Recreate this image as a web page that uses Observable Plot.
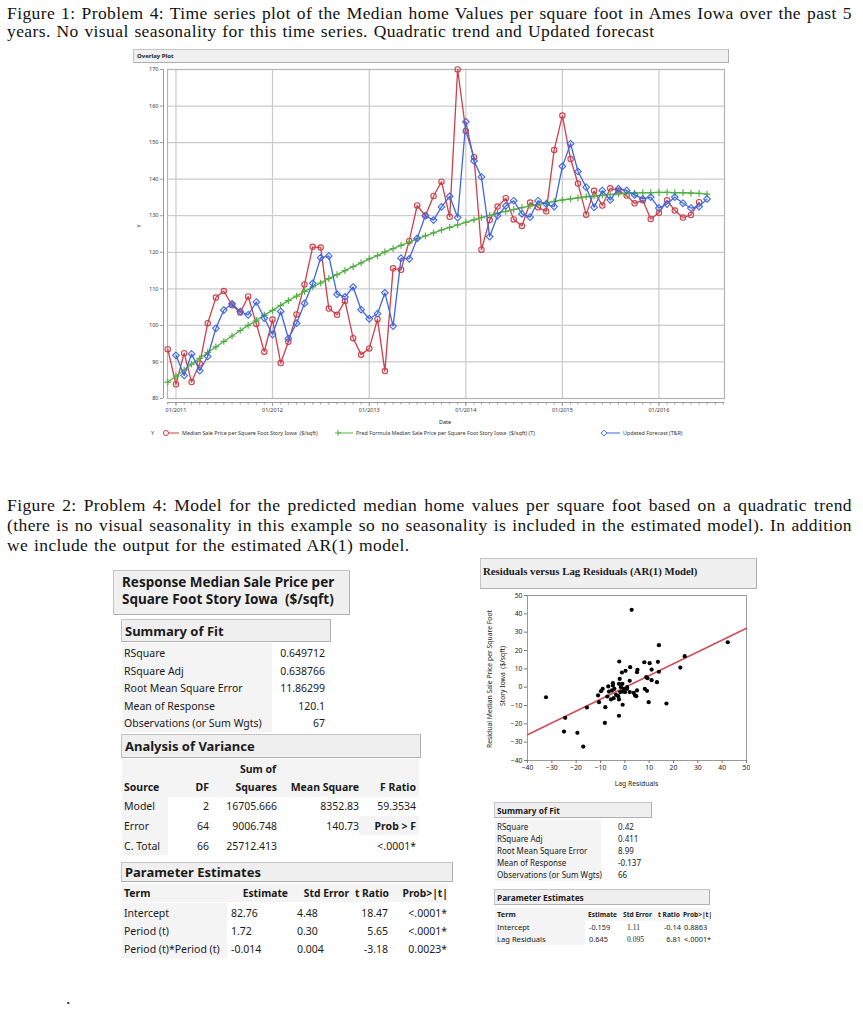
<!DOCTYPE html>
<html><head><meta charset="utf-8">
<script src="https://cdn.jsdelivr.net/npm/d3@7"></script>
<script src="https://cdn.jsdelivr.net/npm/@observablehq/plot@0.6"></script>
<style>
html,body{margin:0;padding:0;background:#fff;}
body{width:863px;height:1024px;position:relative;overflow:hidden;font-family:"Noto Sans",sans-serif;color:#1a1a1a;}
.cap{position:absolute;left:7px;width:845px;font-family:"Liberation Serif",serif;font-size:17.5px;letter-spacing:0.4px;word-spacing:1px;line-height:20px;white-space:nowrap;color:#111;}
.just{text-align:justify;text-align-last:justify;word-spacing:0;}
</style>
</head><body>
<div class="cap just" style="top:3px">Figure 1: Problem 4: Time series plot of the Median home Values per square foot in Ames Iowa over the past 5</div>
<div class="cap" style="top:21px">years. No visual seasonality for this time series. Quadratic trend and Updated forecast</div>
<div class="cap just" style="top:495px">Figure 2: Problem 4: Model for the predicted median home values per square foot based on a quadratic trend</div>
<div class="cap just" style="top:515px">(there is no visual seasonality in this example so no seasonality is included in the estimated model). In addition</div>
<div class="cap" style="top:535px">we include the output for the estimated AR(1) model.</div>
<div class="cap" style="top:988px;left:66px">.</div>
<script>
// ---------------- DATA ----------------
// Month offsets relative to 01/2011
const redStart = -1;
const redValues = [93.5,83.9,92.4,84.5,89.6,100.6,107.6,109.4,105.5,103.5,107.9,100.4,92.8,101.6,89.7,95.5,103.0,111.2,121.5,121.3,104.6,102.9,106.7,96.5,92.0,93.7,101.7,87.5,115.6,115.2,123.1,132.8,130.0,135.4,139.3,129.7,170.0,153.2,146.0,120.7,128.8,132.5,134.8,129.0,127.2,133.6,132.3,131.2,148.0,157.4,145.5,138.8,130.3,136.8,132.8,137.5,136.9,135.5,133.4,134.2,129.1,130.8,134.2,131.4,129.5,130.2,133.7];
const greenStart = -1;
const greenValues = [84.5,86.1,87.8,89.4,91.0,92.6,94.1,95.6,97.1,98.6,100.0,101.4,102.8,104.1,105.5,106.8,108.0,109.3,110.5,111.6,112.8,113.9,115.0,116.1,117.1,118.2,119.1,120.1,121.0,121.9,122.8,123.7,124.5,125.3,126.1,126.8,127.5,128.2,128.9,129.5,130.1,130.7,131.2,131.7,132.2,132.7,133.1,133.5,133.9,134.3,134.6,134.9,135.2,135.4,135.6,135.8,136.0,136.1,136.2,136.3,136.3,136.4,136.4,136.3,136.3,136.2,136.1,135.9];
const blueStart = 0;
const blueValues = [91.8,86.3,92.2,87.6,91.5,99.2,104.2,105.9,103.8,102.9,106.4,102.0,97.5,103.8,96.4,100.6,106.0,111.5,118.5,119.0,108.5,107.8,110.5,104.3,101.8,103.2,108.9,99.8,118.4,118.2,123.8,130.0,128.8,132.4,135.3,129.5,155.7,145.0,140.6,124.3,130.0,132.7,134.1,130.5,129.6,134.1,133.2,132.5,143.5,149.7,142.1,137.8,132.3,136.9,134.3,137.4,136.9,135.7,134.6,135.1,132.1,133.2,135.1,133.4,132.1,132.5,134.6];
const yTicks = [80,90,100,110,120,130,140,150,160,170];
const yearTickLabels = ["01/2011","01/2012","01/2013","01/2014","01/2015","01/2016"];
const seriesNames = ["Median Sale Price per Square Foot Story Iowa  ($/sqft)","Pred Formula Median Sale Price per Square Foot Story Iowa  ($/sqft) (T)","Updated Forecast (T&R)"];

// AR(1) residual scatter
const lagResiduals = [-32.4,2.8,42.3,14.0,24.6,22.8,-2.3,8.0,10.2,13.6,2.2,5.2,5.0,0.3,-1.2,11.0,14.0,8.8,9.3,11.0,13.2,2.0,-2.1,-2.4,-1.0,-4.9,-4.9,-6.8,-9.1,-9.8,-11.0,-10.6,-8.0,-15.6,-24.5,-25.0,-19.5,-17.1,-8.2,-2.4,-0.9,9.8,17.1,8.2,9.1,0.9,2.0,3.6,4.2,4.7,0.1,-0.8,-2.7,-2.4,-4.6,-5.7,-7.2,-5.3,-4.3,-1.9,-0.4,-3.6,0.9,-1.6,5.0,-6.5];
const residuals = [-5.5,42.2,24.5,22.9,16.9,10.7,14.0,13.6,13.1,13.8,10.9,9.5,8.2,8.9,8.0,9.6,8.4,5.5,4.9,3.8,2.7,3.5,4.5,1.8,1.8,2.2,0.9,0.4,-0.9,-2.2,-4.5,-8.2,-10.9,-11.1,-16.7,-24.2,-24.9,-32.4,-19.5,-15.6,-9.6,-8.2,-8.9,-0.9,-2.0,-0.9,-2.7,-3.1,-4.5,-4.9,-2.7,-2.4,-4.9,-6.7,-6.0,-6.7,-5.1,-1.8,-0.9,-2.7,-0.9,-4.2,0.0,0.0,-1.8,-2.4];
const fitLineX = [-40, 50];
const fitLineY = [-25.96, 32.09];
const scatterTicks = [-40,-30,-20,-10,0,10,20,30,40,50];

// Tables
const fitLabels = ["RSquare","RSquare Adj","Root Mean Square Error","Mean of Response","Observations (or Sum Wgts)"];
const fitValues = ["0.649712","0.638766","11.86299","120.1","67"];
const anovaSource = ["Model","Error","C. Total"];
const anovaDF = ["2","64","66"];
const anovaSS = ["16705.666","9006.748","25712.413"];
const anovaMS = ["8352.83","140.73",""];
const anovaF = ["59.3534","Prob > F","<.0001*"];
const peTerms = ["Intercept","Period (t)","Period (t)*Period (t)"];
const peEst = ["82.76","1.72","-0.014"];
const peSE = ["4.48","0.30","0.004"];
const peT = ["18.47","5.65","-3.18"];
const peP = ["<.0001*","<.0001*","0.0023*"];
const arFitValues = ["0.42","0.411","8.99","-0.137","66"];
const arTerms = ["Intercept","Lag Residuals"];
const arEst = ["-0.159","0.645"];
const arSE = ["1.11","0.095"];
const arT = ["-0.14","6.81"];
const arP = ["0.8863","<.0001*"];

// fit justified caption lines
document.querySelectorAll(".cap.just").forEach(el => {
  let ls = 0.4;
  while (el.scrollWidth > 846 && ls > -0.5) { ls -= 0.05; el.style.letterSpacing = ls + "px"; }
});

// ---------------- helpers ----------------
const RED = "#cd3f4a", GREEN = "#52b043", BLUE = "#3f66de";
const mdate = m => new Date(Date.UTC(2011, m, 1));
function B(x, y, w, h, bg = "#efefef", border = true) {
  const d = document.createElement("div");
  Object.assign(d.style, {position:"absolute", left:x+"px", top:y+"px", width:w+"px", height:h+"px", background:bg, boxSizing:"border-box"});
  if (border) { d.style.border = "1px solid #c4c4c4"; d.style.borderRightColor = "#b0b0b0"; d.style.borderBottomColor = "#b0b0b0"; }
  document.body.appendChild(d); return d;
}
function T(text, x, y, o = {}) {
  const size = o.size || 11, lh = Math.round(size * 1.5);
  const d = document.createElement("div");
  d.textContent = text;
  Object.assign(d.style, {position:"absolute", top:(y - lh/2)+"px", fontSize:size+"px", lineHeight:lh+"px",
    fontWeight:o.weight || 400, whiteSpace:"pre", color:o.color || "#1a1a1a",
    fontFamily:o.family || "'Noto Sans', sans-serif"});
  if (o.rotate) d.style.transform = "rotate(-90deg)";
  if (o.align === "right") { d.style.left = (x-400)+"px"; d.style.width = "400px"; d.style.textAlign = "right"; }
  else if (o.align === "center") { d.style.left = (x-300)+"px"; d.style.width = "600px"; d.style.textAlign = "center"; }
  else d.style.left = x+"px";
  document.body.appendChild(d); return d;
}
function place(node, x, y) { node.style.position = "absolute"; node.style.left = x+"px"; node.style.top = y+"px"; document.body.appendChild(node); }

// ---------------- Overlay plot ----------------
B(133, 49, 596, 14, "#f0f0f0");
T("Overlay Plot", 137, 56, {size:6, weight:700});

const red = redValues.map((v, i) => ({date: mdate(i + redStart), v}));
const green = greenValues.map((v, i) => ({date: mdate(i + greenStart), v}));
const blue = blueValues.map((v, i) => ({date: mdate(i + blueStart), v}));
const yearTicks = yearTickLabels.map(s => new Date(Date.UTC(+s.slice(3), +s.slice(0,2) - 1, 1)));
const monthTicks = d3.utcMonth.range(new Date(Date.UTC(2010,11,1)), new Date(Date.UTC(2016,8,2)));
const xmin = new Date(Date.UTC(2010,10,30)), xmax = new Date(Date.UTC(2016,8,5));

const overlay = Plot.plot({
  width: 600, height: 368, marginLeft: 37, marginRight: 6, marginTop: 7, marginBottom: 32,
  style: {fontSize: "5.5px", fontFamily: "'Noto Sans', sans-serif", background: "transparent", color: "#333", overflow: "visible"},
  x: {type: "utc", domain: [xmin, xmax], label: null},
  y: {domain: [80, 170], label: null},
  marks: [
    Plot.gridY(yTicks.slice(1, -1), {stroke: "#cbcbcb", strokeOpacity: 1, strokeWidth: 1.2}),
    Plot.gridX(yearTicks, {stroke: "#cbcbcb", strokeOpacity: 1, strokeWidth: 1.2}),
    Plot.frame({stroke: "#b4b4b4", strokeWidth: 1.2}),
    Plot.ruleX([xmin], {dx: -4, stroke: "#9a9a9a"}),
    Plot.ruleY([80], {dy: 4, stroke: "#9a9a9a"}),
    Plot.axisY(yTicks, {dx: -4, tickSize: 3, tickPadding: 2, label: null, stroke: "#9a9a9a"}),
    Plot.axisX(monthTicks, {dy: 4, tickSize: 2.5, tickFormat: () => "", label: null, stroke: "#9a9a9a"}),
    Plot.axisX(yearTicks, {dy: 4, tickSize: 4, tickPadding: 1.5, tickFormat: d3.utcFormat("%m/%Y"), label: null, stroke: "#9a9a9a"}),
    Plot.line(red, {x: "date", y: "v", stroke: RED, strokeWidth: 1.3}),
    Plot.dot(red, {x: "date", y: "v", symbol: "circle", r: 2.7, stroke: RED, strokeWidth: 1.1, fill: "none"}),
    Plot.line(green, {x: "date", y: "v", stroke: GREEN, strokeWidth: 1.4}),
    Plot.dot(green, {x: "date", y: "v", symbol: "plus", r: 2.3, stroke: GREEN, strokeWidth: 1.2}),
    Plot.line(blue, {x: "date", y: "v", stroke: BLUE, strokeWidth: 1.3}),
    Plot.dot(blue, {x: "date", y: "v", symbol: "diamond2", r: 3, stroke: BLUE, strokeWidth: 1.1, fill: "none"})
  ]
});
place(overlay, 130, 62);
T("Y", 139, 226, {size: 5.5, rotate: true, align: "center"});
T("Date", 445, 421.5, {size: 5.5, align: "center"});

// legend
const leg = d3.select("body").append("svg").attr("width", 863).attr("height", 16)
  .style("position", "absolute").style("left", "0px").style("top", "425px")
  .style("font-family", "'Noto Sans', sans-serif").style("font-size", "5.4px");
leg.append("text").attr("x", 151).attr("y", 10).attr("fill", "#333").text("Y");
const legItems = [
  {x: 166, tx: 182, color: RED, sym: d3.symbolCircle, name: seriesNames[0], size: 20},
  {x: 338, tx: 356, color: GREEN, sym: d3.symbolPlus, name: seriesNames[1], size: 14},
  {x: 604, tx: 623, color: BLUE, sym: d3.symbolDiamond2, name: seriesNames[2], size: 22}
];
for (const it of legItems) {
  leg.append("line").attr("x1", it.x).attr("x2", it.tx - 3).attr("y1", 8).attr("y2", 8).attr("stroke", it.color).attr("stroke-width", 1);
  leg.append("path").attr("d", d3.symbol(it.sym, it.size)()).attr("transform", `translate(${it.x},8)`)
    .attr("fill", it.sym === d3.symbolPlus ? it.color : "white").attr("stroke", it.color).attr("stroke-width", 1);
  leg.append("text").attr("x", it.tx).attr("y", 9.8).attr("fill", "#333").style("white-space", "pre").text(it.name);
}

// ---------------- Left tables ----------------
B(113, 570, 237, 45, "#f0f0f0");
T("Response Median Sale Price per", 122, 582, {size: 13.5, weight: 700});
T("Square Foot Story Iowa  ($/sqft)", 122, 599, {size: 13.5, weight: 700});

B(121, 619, 210, 23, "#efefef");
T("Summary of Fit", 125, 630.5, {size: 13, weight: 700});
B(122, 643, 150, 89, "#f4f4f4", false);
const fitY = [653, 670.5, 688, 705.5, 723];
fitLabels.forEach((s, i) => { T(s, 124, fitY[i], {size: 10.5}); T(fitValues[i], 325, fitY[i], {size: 10.5, align: "right"}); });

B(121, 734, 300, 24, "#efefef");
T("Analysis of Variance", 125, 746, {size: 13, weight: 700});
B(122, 759, 297, 38, "#f4f4f4", false);
T("Sum of", 258, 768.5, {size: 10.5, weight: 700, align: "center"});
const aHeadY = 786.5;
T("Source", 124, aHeadY, {size: 10.5, weight: 700});
T("DF", 209, aHeadY, {size: 10.5, weight: 700, align: "right"});
T("Squares", 277, aHeadY, {size: 10.5, weight: 700, align: "right"});
T("Mean Square", 359, aHeadY, {size: 10.5, weight: 700, align: "right"});
T("F Ratio", 416, aHeadY, {size: 10.5, weight: 700, align: "right"});
B(122, 797, 46, 58, "#f4f4f4", false);
B(359, 816, 60, 19, "#f4f4f4", false);
const aY = [805.5, 825.5, 845.5];
anovaSource.forEach((s, i) => {
  T(s, 124, aY[i], {size: 10.5});
  T(anovaDF[i], 209, aY[i], {size: 10.5, align: "right"});
  T(anovaSS[i], 277, aY[i], {size: 10.5, align: "right"});
  if (anovaMS[i]) T(anovaMS[i], 359, aY[i], {size: 10.5, align: "right"});
  T(anovaF[i], 416, aY[i], {size: 10.5, align: "right", weight: i === 1 ? 700 : 400});
});

B(121, 862, 332, 20, "#efefef");
T("Parameter Estimates", 125, 872, {size: 13, weight: 700});
B(122, 884, 326, 18, "#f4f4f4", false);
const pHeadY = 893;
T("Term", 124, pHeadY, {size: 10.5, weight: 700});
T("Estimate", 288, pHeadY, {size: 10.3, weight: 700, align: "right"});
T("Std Error", 349, pHeadY, {size: 10.3, weight: 700, align: "right"});
T("t Ratio", 389, pHeadY, {size: 10.3, weight: 700, align: "right"});
T("Prob>|t|", 448, pHeadY, {size: 10.3, weight: 700, align: "right"});
B(122, 903, 105, 55, "#f4f4f4", false);
const pY = [912.5, 931, 949];
peTerms.forEach((s, i) => {
  T(s, 124, pY[i], {size: 10.5});
  T(peEst[i], 231, pY[i], {size: 10.5});
  T(peSE[i], 297, pY[i], {size: 10.5});
  T(peT[i], 388, pY[i], {size: 10.5, align: "right"});
  T(peP[i], 447, pY[i], {size: 10.5, align: "right"});
});

// ---------------- Right panel ----------------
B(480, 558, 277, 31, "#f0f0f0");
T("Residuals versus Lag Residuals (AR(1) Model)", 483, 571, {size: 10.8, weight: 700, family: "'Liberation Serif', serif"});

const pts = lagResiduals.map((x, i) => ({x, y: residuals[i]}));
const fitLine = fitLineX.map((x, i) => ({x, y: fitLineY[i]}));
const scatter = Plot.plot({
  width: 270, height: 200, marginLeft: 47, marginRight: 4, marginTop: 7, marginBottom: 28,
  style: {fontSize: "6.8px", fontFamily: "'Noto Sans', sans-serif", background: "transparent", color: "#222"},
  x: {domain: [-40, 50], label: null},
  y: {domain: [-40, 50], label: null},
  marks: [
    Plot.frame({stroke: "#9a9a9a"}),
    Plot.axisX(scatterTicks, {tickSize: 3, tickPadding: 2, label: null, stroke: "#777"}),
    Plot.axisY(scatterTicks, {tickSize: 3, tickPadding: 2, label: null, stroke: "#777"}),
    Plot.line(fitLine, {x: "x", y: "y", stroke: "#cf4f58", strokeWidth: 1.6}),
    Plot.dot(pts, {x: "x", y: "y", r: 2.1, fill: "#000", stroke: "none"})
  ]
});
place(scatter, 480, 588);
T("Lag Residuals", 636.5, 784, {size: 6.8, align: "center"});
T("Residual Median Sale Price per Square Foot", 490, 679, {size: 6.8, rotate: true, align: "center"});
T("Story Iowa  ($/sqft)", 503, 676, {size: 6.8, rotate: true, align: "center"});

// small AR tables
B(494, 802, 158, 16, "#efefef");
T("Summary of Fit", 497, 810.5, {size: 8.3, weight: 700});
B(495, 820, 106, 61, "#f4f4f4", false);
const sY = [827, 839, 851, 863, 875];
fitLabels.forEach((s, i) => { T(s, 497, sY[i], {size: 8}); T(arFitValues[i], 618, sY[i], {size: 8}); });

B(494, 889, 216, 16, "#efefef");
T("Parameter Estimates", 497, 897.5, {size: 8.3, weight: 700});
B(495, 908, 215, 13, "#f4f4f4", false);
T("Term", 497, 914.5, {size: 7.4, weight: 700});
T("Estimate", 588, 914.5, {size: 6.6, weight: 700});
T("Std Error", 623, 914.5, {size: 6.6, weight: 700});
T("t Ratio", 658, 914.5, {size: 6.6, weight: 700});
T("Prob>|t|", 683, 914.5, {size: 6.6, weight: 700});
B(495, 921, 90, 24, "#f4f4f4", false);
const rY = [927, 939];
arTerms.forEach((s, i) => {
  T(s, 497, rY[i], {size: 7.6});
  T(arEst[i], 589, rY[i], {size: 7.4});
  T(arSE[i], 627, rY[i], {size: 7.6, family: "'Liberation Serif', serif"});
  T(arT[i], 681, rY[i], {size: 7.4, align: "right"});
  T(arP[i], 684, rY[i], {size: 7.4});
});
</script>
</body></html>
